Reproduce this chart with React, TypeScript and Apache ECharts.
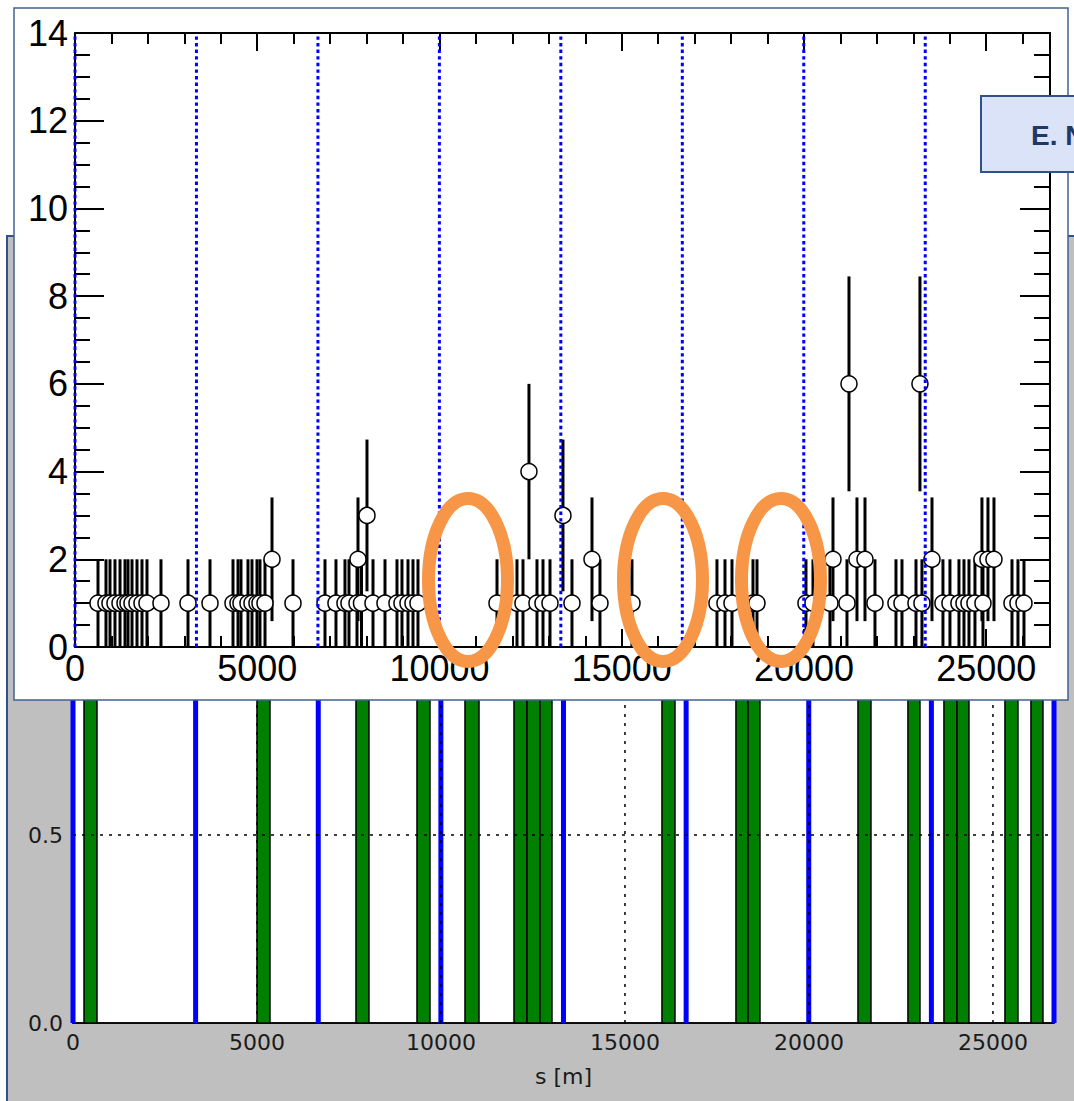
import React, { useEffect, useRef } from "react";
import * as echarts from "echarts";

// ---------- top chart: losses per position (counts, Poisson error) ----------
const TOP_X_MAX = 26750;
const hitS = [
  631, 850, 960, 1097, 1235, 1372, 1454, 1564, 1701, 1838, 1975, 2359, 3100, 3704,
  4335, 4472, 4554, 4746, 4856, 4993, 5075, 5213, 5405, 5981, 6859, 7160, 7407, 7517,
  7737, 7764, 7860, 8011, 8176, 8505, 8834, 8971, 9136, 9273, 9410, 11578, 12126,
  12291, 12455, 12675, 12840, 13032, 13388, 13635, 14184, 14403, 15281, 17613, 17833,
  18025, 18601, 18711, 20055, 20247, 20713, 20796, 21180, 21235, 21454, 21674, 21948,
  22524, 22689, 23073, 23182, 23237, 23512, 23813, 24005, 24252, 24390, 24527, 24691,
  24883, 24911, 25048, 25213, 25707, 25871, 26036,
];
const hitCount = [
  1, 1, 1, 1, 1, 1, 1, 1, 1, 1, 1, 1, 1, 1,
  1, 1, 1, 1, 1, 1, 1, 1, 2, 1, 1, 1, 1, 1,
  1, 2, 1, 3, 1, 1, 1, 1, 1, 1, 1, 1, 1,
  1, 4, 1, 1, 1, 3, 1, 2, 1, 1, 1, 1,
  1, 1, 1, 1, 1, 1, 2, 1, 6, 2, 2, 1,
  1, 1, 1, 6, 1, 2, 1, 1, 1, 1, 1, 1,
  2, 1, 2, 2, 1, 1, 1,
];
// error half-widths for each count level
const countError: Record<number, number> = { 1: 1.0, 2: 1.41, 3: 1.73, 4: 2.0, 6: 2.45 };
const topOctantLines = [0, 3332, 6665, 9997, 13329, 16662, 19994, 23327];

// ---------- bottom chart: collimator / element bars ----------
const BOTTOM_X_MAX = 26659;
const barStart = [299, 5000, 7690, 9348, 10652, 11984, 12337, 12690, 16005, 18016, 18342, 21332, 22690, 23668, 24022, 25326, 26033];
const barEnd = [652, 5353, 8043, 9701, 11033, 12337, 12690, 13016, 16359, 18342, 18668, 21685, 23016, 24022, 24348, 25679, 26359];
const bottomOctantLines = [0, 3332, 6665, 9997, 13329, 16662, 19994, 23327, 26659];
const bottomGridX = [5000, 10000, 15000, 20000, 25000];
const bottomGridY = [0.5];

const SANS = "Liberation Sans";
const MPL = "DejaVu Sans";

export default function App() {
  const ref = useRef<HTMLDivElement>(null);

  useEffect(() => {
    document.body.style.margin = "0";
    if (!ref.current) return;
    const chart = echarts.init(ref.current, null, { renderer: "svg" });

    const scatterData = hitS.map((s, i) => [s, hitCount[i]]);
    const errData = hitS.map((s, i) => {
      const n = hitCount[i];
      const e = countError[n];
      return [s, n - e, n + e];
    });

    const plain = (v: number) => String(v);
    const blackLine = { color: "#000", width: 2 };
    const topAxisBase = {
      type: "value",
      gridIndex: 1,
      min: 0,
      max: TOP_X_MAX,
      z: 10,
      splitLine: { show: false },
    };

    const option: any = {
      animation: false,
      backgroundColor: "#ffffff",
      textStyle: { fontFamily: SANS },
      grid: [
        {
          left: 73,
          right: 20,
          top: 647,
          bottom: 78,
          show: true,
          backgroundColor: "#ffffff",
          borderColor: "#000",
          borderWidth: 1.5,
          z: 0,
        },
        { left: 75, right: 24, top: 33, bottom: 454, show: false, z: 10 },
      ],
      xAxis: [
        {
          type: "value",
          gridIndex: 0,
          min: 0,
          max: BOTTOM_X_MAX,
          interval: 5000,
          position: "bottom",
          axisLine: { show: true, onZero: false, lineStyle: { color: "#000", width: 1.5 } },
          axisTick: { show: false },
          splitLine: { show: false },
          axisLabel: { fontFamily: MPL, fontSize: 22, color: "#1a1a1a", margin: 8, showMaxLabel: false, formatter: plain },
          name: "s [m]",
          nameLocation: "middle",
          nameGap: 42,
          nameTextStyle: { fontFamily: MPL, fontSize: 22, color: "#1a1a1a" },
        },
        {
          ...topAxisBase,
          position: "bottom",
          interval: 5000,
          axisLine: { show: true, onZero: false, lineStyle: blackLine },
          axisTick: { show: true, inside: true, length: 18, lineStyle: blackLine },
          axisLabel: { show: true, fontFamily: SANS, fontSize: 36, color: "#000", margin: 3, showMaxLabel: false, formatter: plain },
        },
        {
          ...topAxisBase,
          position: "bottom",
          interval: 1000,
          axisLine: { show: false, onZero: false },
          axisTick: { show: true, inside: true, length: 11, lineStyle: blackLine },
          axisLabel: { show: false },
        },
        {
          ...topAxisBase,
          position: "top",
          interval: 5000,
          axisLine: { show: true, onZero: false, lineStyle: blackLine },
          axisTick: { show: true, inside: true, length: 18, lineStyle: blackLine },
          axisLabel: { show: false },
        },
        {
          ...topAxisBase,
          position: "top",
          interval: 1000,
          axisLine: { show: false, onZero: false },
          axisTick: { show: true, inside: true, length: 11, lineStyle: blackLine },
          axisLabel: { show: false },
        },
      ],
      yAxis: [
        {
          type: "value",
          gridIndex: 0,
          min: 0,
          max: 1,
          interval: 0.5,
          axisLine: { show: true, onZero: false, lineStyle: { color: "#000", width: 1.5 } },
          axisTick: { show: false },
          splitLine: { show: false },
          axisLabel: {
            fontFamily: MPL,
            fontSize: 22,
            color: "#1a1a1a",
            margin: 10,
            formatter: (v: number) => v.toFixed(1),
          },
        },
        {
          type: "value",
          gridIndex: 1,
          min: 0,
          max: 14,
          interval: 2,
          position: "left",
          z: 10,
          axisLine: { show: true, onZero: false, lineStyle: blackLine },
          axisTick: { show: true, inside: true, length: 29, lineStyle: blackLine },
          minorTick: { show: true, splitNumber: 4, length: 15, lineStyle: blackLine },
          splitLine: { show: false },
          minorSplitLine: { show: false },
          axisLabel: { fontFamily: SANS, fontSize: 36, color: "#000", margin: 7 },
        },
        {
          type: "value",
          gridIndex: 1,
          min: 0,
          max: 14,
          interval: 2,
          position: "right",
          z: 10,
          axisLine: { show: true, onZero: false, lineStyle: blackLine },
          axisTick: { show: true, inside: true, length: 30, lineStyle: blackLine },
          minorTick: { show: true, splitNumber: 4, length: 16, lineStyle: blackLine },
          splitLine: { show: false },
          minorSplitLine: { show: false },
          axisLabel: { show: false },
        },
      ],
      series: [
        // bottom: green element bars
        {
          type: "custom",
          xAxisIndex: 0,
          yAxisIndex: 0,
          z: 2,
          data: barStart.map((s, i) => [s, barEnd[i]]),
          encode: { x: [0, 1] },
          renderItem: (params: any, api: any) => {
            const p0 = api.coord([api.value(0), 0]);
            const p1 = api.coord([api.value(1), 1]);
            return {
              type: "rect",
              shape: { x: p0[0], y: p1[1], width: p1[0] - p0[0], height: p0[1] - p1[1] },
              style: { fill: "#008000", stroke: "#000", lineWidth: 1.5 },
            };
          },
        },
        // bottom: blue octant lines
        {
          type: "custom",
          xAxisIndex: 0,
          yAxisIndex: 0,
          z: 3,
          data: bottomOctantLines.map((s) => [s]),
          encode: { x: 0 },
          renderItem: (params: any, api: any) => {
            const p0 = api.coord([api.value(0), 0]);
            const p1 = api.coord([api.value(0), 1]);
            return {
              type: "line",
              shape: { x1: p0[0], y1: p0[1], x2: p1[0], y2: p1[1] },
              style: { stroke: "#0000ff", lineWidth: 5 },
            };
          },
        },
        // bottom: dotted grid (vertical)
        {
          type: "custom",
          xAxisIndex: 0,
          yAxisIndex: 0,
          z: 4,
          data: bottomGridX.map((s) => [s]),
          encode: { x: 0 },
          renderItem: (params: any, api: any) => {
            const p0 = api.coord([api.value(0), 0]);
            const p1 = api.coord([api.value(0), 1]);
            return {
              type: "line",
              shape: { x1: p0[0], y1: p0[1], x2: p1[0], y2: p1[1] },
              style: { stroke: "#000", lineWidth: 1.5, lineDash: [3, 6] },
            };
          },
        },
        // bottom: dotted grid (horizontal)
        {
          type: "custom",
          xAxisIndex: 0,
          yAxisIndex: 0,
          z: 4,
          data: bottomGridY.map((v) => [0, v]),
          encode: { y: 1 },
          renderItem: (params: any, api: any) => {
            const p0 = api.coord([0, api.value(1)]);
            const p1 = api.coord([BOTTOM_X_MAX, api.value(1)]);
            return {
              type: "line",
              shape: { x1: p0[0], y1: p0[1], x2: p1[0], y2: p1[1] },
              style: { stroke: "#000", lineWidth: 1.5, lineDash: [3, 6] },
            };
          },
        },
        // top: error bars
        {
          type: "custom",
          xAxisIndex: 1,
          yAxisIndex: 1,
          z: 11,
          data: errData,
          encode: { x: 0, y: [1, 2] },
          renderItem: (params: any, api: any) => {
            const p0 = api.coord([api.value(0), api.value(1)]);
            const p1 = api.coord([api.value(0), api.value(2)]);
            return {
              type: "line",
              shape: { x1: p0[0], y1: p0[1], x2: p1[0], y2: p1[1] },
              style: { stroke: "#000", lineWidth: 3 },
            };
          },
        },
        // top: markers
        {
          type: "scatter",
          xAxisIndex: 1,
          yAxisIndex: 1,
          z: 12,
          symbol: "circle",
          symbolSize: 16,
          itemStyle: { color: "#ffffff", borderColor: "#000", borderWidth: 1.5, opacity: 1 },
          data: scatterData,
        },
        // top: blue dotted octant lines
        {
          type: "custom",
          xAxisIndex: 1,
          yAxisIndex: 1,
          z: 13,
          data: topOctantLines.map((s) => [s]),
          encode: { x: 0 },
          renderItem: (params: any, api: any) => {
            const p0 = api.coord([api.value(0), 0]);
            const p1 = api.coord([api.value(0), 14]);
            return {
              type: "line",
              shape: { x1: p0[0], y1: p0[1], x2: p1[0], y2: p1[1] },
              style: { stroke: "#0000ff", lineWidth: 3, lineDash: [3.4, 3.2] },
            };
          },
        },
      ],
      graphic: [
        {
          type: "rect",
          z: -10,
          silent: true,
          shape: { x: 7, y: 236, width: 1090, height: 900 },
          style: { fill: "#bfbfbf", stroke: "#2f528f", lineWidth: 2 },
        },
        {
          type: "rect",
          z: 6,
          silent: true,
          shape: { x: 14, y: 8, width: 1054, height: 692 },
          style: { fill: "#ffffff", stroke: "#41628f", lineWidth: 1.5 },
        },
        {
          type: "ellipse",
          z: 20,
          silent: true,
          shape: { cx: 468, cy: 580, rx: 39.5, ry: 81.5 },
          style: { fill: "none", stroke: "#f79646", lineWidth: 13 },
        },
        {
          type: "ellipse",
          z: 20,
          silent: true,
          shape: { cx: 663, cy: 580, rx: 39.5, ry: 81.5 },
          style: { fill: "none", stroke: "#f79646", lineWidth: 13 },
        },
        {
          type: "ellipse",
          z: 20,
          silent: true,
          shape: { cx: 781, cy: 580, rx: 39.5, ry: 81.5 },
          style: { fill: "none", stroke: "#f79646", lineWidth: 13 },
        },
        {
          type: "rect",
          z: 20,
          silent: true,
          shape: { x: 981, y: 96, width: 110, height: 76 },
          style: { fill: "#dae3f8", stroke: "#2f528f", lineWidth: 2 },
        },
        {
          type: "text",
          z: 21,
          silent: true,
          x: 1031,
          y: 135,
          style: {
            text: "E. N",
            fill: "#1f3864",
            font: 'bold 28px "Liberation Sans"',
            verticalAlign: "middle",
            align: "left",
          },
        },
      ],
    };

    chart.setOption(option);
    return () => chart.dispose();
  }, []);

  return <div ref={ref} style={{ width: 1074, height: 1101 }} />;
}
